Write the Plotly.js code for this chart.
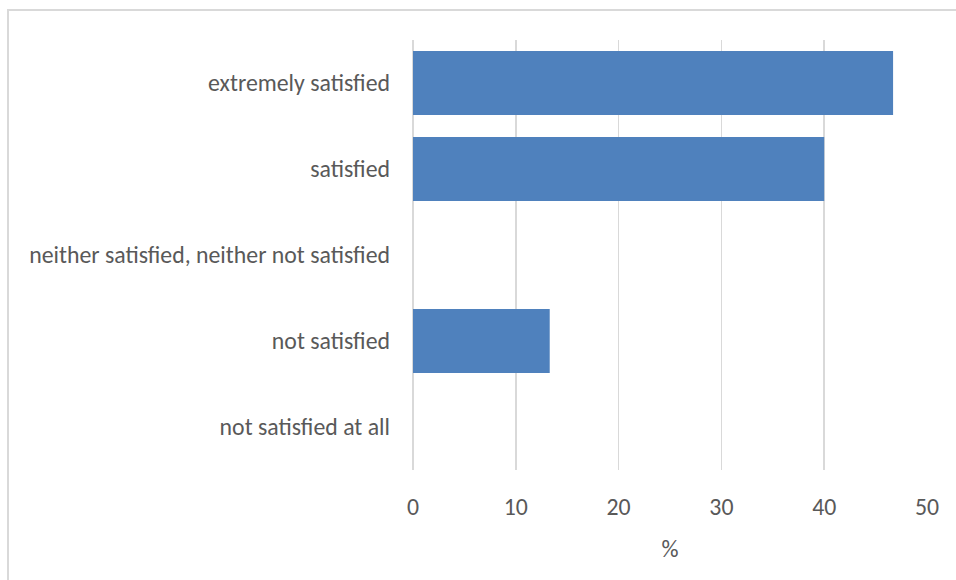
<!DOCTYPE html>
<html>
<head>
<meta charset="utf-8">
<script src="https://cdn.plot.ly/plotly-3.0.1.min.js"></script>
<style>
  html, body { margin: 0; padding: 0; background: #ffffff; }
  #chart { width: 956px; height: 580px; position: relative; }
  #frame { position: absolute; left: 7px; top: 9px; width: 1000px; height: 700px;
           border: 2px solid #d9d9d9; pointer-events: none; box-sizing: border-box; }
  #wrap { position: relative; width: 956px; height: 580px; overflow: hidden; }
</style>
</head>
<body>
<div id="wrap">
  <div id="chart"></div>
  <div id="frame"></div>
</div>
<script>
const categories = [
  "extremely satisfied",
  "satisfied",
  "neither satisfied, neither not satisfied",
  "not satisfied",
  "not satisfied at all"
];
const values = [46.7, 40.0, 0, 13.3, 0];
const xTicks = [0, 10, 20, 30, 40, 50];
const xTitle = "%";

const fontFamily = "Carlito, Calibri, Lato, 'Open Sans', sans-serif";
const textColor = "#595959";
const fs = 23.8;

const trace = {
  type: "bar",
  orientation: "h",
  y: categories,
  x: values,
  marker: { color: "#4F81BD", line: { width: 0 } },
  hoverinfo: "x+y"
};

const layout = {
  width: 956,
  height: 580,
  margin: { l: 413, r: 29, t: 40, b: 110, pad: 0 },
  paper_bgcolor: "rgba(0,0,0,0)",
  plot_bgcolor: "#ffffff",
  showlegend: false,
  bargap: 0.256,
  font: { family: fontFamily, color: textColor, size: fs },
  xaxis: {
    range: [0, 50],
    tickvals: xTicks,
    ticktext: xTicks.map(String),
    showgrid: true,
    gridcolor: "#d9d9d9",
    gridwidth: 1.5,
    zeroline: true,
    zerolinecolor: "#d9d9d9",
    zerolinewidth: 1.5,
    showline: false,
    ticks: "",
    ticklabelstandoff: 20,
    tickfont: { family: fontFamily, color: textColor, size: fs },
    title: { text: xTitle, font: { family: fontFamily, color: textColor, size: fs }, standoff: 20 },
    fixedrange: true,
    automargin: false
  },
  yaxis: {
    type: "category",
    autorange: "reversed",
    showgrid: false,
    zeroline: false,
    showline: false,
    ticks: "",
    ticklabelstandoff: 22,
    tickfont: { family: fontFamily, color: textColor, size: fs },
    fixedrange: true,
    automargin: false
  }
};

Plotly.newPlot("chart", [trace], layout, { displayModeBar: false, staticPlot: true });
</script>
</body>
</html>
